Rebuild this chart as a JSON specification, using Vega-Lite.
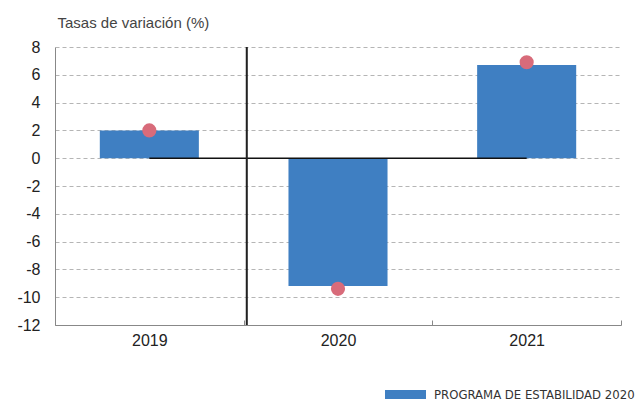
{
  "$schema": "https://vega.github.io/schema/vega-lite/v6.json",
  "width": 566,
  "height": 278,
  "autosize": "none",
  "padding": {"left": 55, "top": 47, "right": 17, "bottom": 78},
  "background": "white",
  "config": {
    "view": {"stroke": null},
    "font": "Liberation Sans",
    "axisY": {
      "labelOverlap": false,
      "tickCount": 11,
      "values": [-12, -10, -8, -6, -4, -2, 0, 2, 4, 6, 8],
      "labelExpr": "'' + datum.value",
      "labelFontSize": 16,
      "labelColor": "#222",
      "labelPadding": 15,
      "ticks": false,
      "domainColor": "#888",
      "grid": true,
      "gridColor": "#b5b5b5",
      "gridDash": [4, 3],
      "gridWidth": 1
    }
  },
  "data": {
    "values": [
      {"year": "2019", "pe": 2.0, "dot": 2.0},
      {"year": "2020", "pe": -9.2, "dot": -9.4},
      {"year": "2021", "pe": 6.7, "dot": 6.9}
    ]
  },
  "encoding": {
    "x": {
      "field": "year",
      "type": "ordinal",
      "scale": {"paddingInner": 0, "paddingOuter": 0},
      "axis": {
        "title": null,
        "labelAngle": 0,
        "labelFontSize": 16,
        "labelColor": "#222",
        "labelPadding": 12,
        "domainColor": "#888",
        "domainWidth": 1,
        "tickColor": "#888",
        "tickSize": -5,
        "tickBand": "extent",
        "grid": false
      }
    }
  },
  "layer": [
    {
      "mark": {"type": "bar", "width": {"band": 0.525}},
      "encoding": {
        "y": {
          "field": "pe",
          "type": "quantitative",
          "scale": {"domain": [-12, 8], "nice": false},
          "axis": {
            "title": "Tasas de variación (%)",
            "titleAngle": 0,
            "titleAlign": "left",
            "titleBaseline": "alphabetic",
            "titleX": 2,
            "titleY": -20,
            "titleFontSize": 15,
            "titleFontWeight": "normal",
            "titleColor": "#444",
            "tickCount": 11,
            "values": [-12, -10, -8, -6, -4, -2, 0, 2, 4, 6, 8],
            "labelOverlap": false
          }
        },
        "color": {
          "datum": "PROGRAMA DE ESTABILIDAD 2020",
          "type": "nominal",
          "scale": {"range": ["#3F7FC2"]},
          "legend": {
            "title": null,
            "orient": "none",
            "legendX": 330,
            "legendY": 327,
            "padding": 0,
            "symbolType": "M-1,-0.22H1V0.22H-1Z",
            "symbolSize": 1681,
            "symbolStrokeWidth": 0,
            "labelFont": "DejaVu Sans Condensed",
            "labelFontSize": 13,
            "labelColor": "#333",
            "labelOffset": 8,
            "labelLimit": 400
          }
        }
      }
    },
    {
      "mark": {"type": "line", "color": "#111", "strokeWidth": 1.5},
      "encoding": {"y": {"datum": 0, "type": "quantitative"}}
    },
    {
      "mark": {"type": "rule", "color": "#222", "strokeWidth": 1.5, "xOffset": 3},
      "encoding": {
        "x": {"datum": "2019", "type": "ordinal", "bandPosition": 1}
      }
    },
    {
      "mark": {"type": "point", "filled": true, "opacity": 1, "color": "#D86B7A", "size": 200},
      "encoding": {
        "y": {"field": "dot", "type": "quantitative"}
      }
    }
  ]
}
